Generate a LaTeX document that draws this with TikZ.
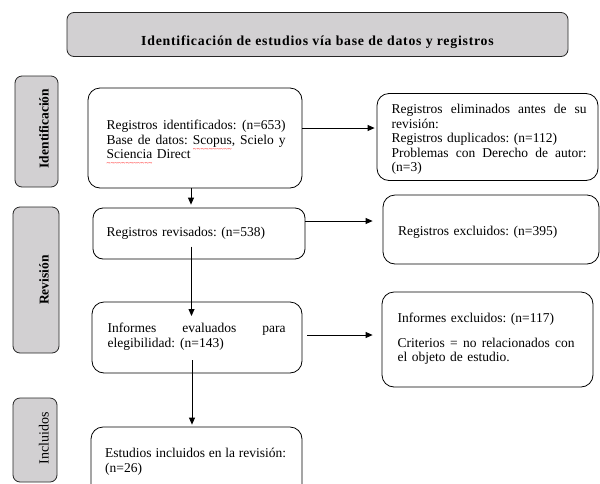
\documentclass[tikz,border=0pt]{standalone}
\usepackage{fontspec}
\setmainfont{Liberation Serif}
\newfontfamily\titlefont[LetterSpace=5.5]{Liberation Serif}
\usetikzlibrary{arrows.meta}
\definecolor{boxgray}{RGB}{210,208,210}
\newcommand\bodyfont{\fontsize{13.5}{14.5}\selectfont\frenchspacing}
\newsavebox\sqbox
\newcommand\sq[1]{\sbox\sqbox{#1}\leavevmode\rlap{\raisebox{-7pt}[0pt][0pt]{\hbox to \wd\sqbox{\color{red}\fontsize{7}{7}\selectfont\xleaders\hbox{\textasciitilde}\hfill}}}\usebox\sqbox}
\newcommand\jl[2]{\makebox[#1][s]{\spaceskip=0pt\xspaceskip=0pt #2}}
\begin{document}
\begin{tikzpicture}[x=1pt,y=-1pt,
  box/.style={draw=black, line width=0.8pt, rounded corners=12pt, fill=white, inner sep=0pt},
  gbox/.style={draw=black!85, line width=0.8pt, rounded corners=7pt, fill=boxgray, inner sep=0pt},
  txt/.style={anchor=base west, inner sep=0pt, align=left, text width=240pt, font=\bodyfont},
  arr/.style={line width=0.8pt, -{Triangle[length=7pt,width=6pt]}},
  side/.style={rotate=90, anchor=base, inner sep=0pt}]
\useasboundingbox (0,0) rectangle (600,483);
\clip (0,0) rectangle (600,483);
\fill[white] (0,0) rectangle (600,483);

% title
\node[gbox, minimum width=501pt, minimum height=44pt] (T) at (317.5,34.5) {};
\node[anchor=base, inner sep=0pt, font=\titlefont\bfseries\fontsize{13.8}{14}\selectfont] (Tt) at (317.5,45.5) {Identificación de estudios vía base de datos y registros};

% side labels
\node[gbox, minimum width=43pt, minimum height=111pt] (S1) at (36.5,131.5) {};
\node[side, font=\bfseries\fontsize{13.5}{14}\selectfont] (S1t) at (48.5,128.5) {Identificación};
\node[gbox, minimum width=46pt, minimum height=146pt] (S2) at (36,280) {};
\node[side, font=\bfseries\fontsize{13.5}{14}\selectfont] (S2t) at (48.5,280) {Revisión};
\node[gbox, minimum width=44pt, minimum height=84pt] (S3) at (35,440) {};
\node[side, font=\fontsize{14}{14}\selectfont] (S3t) at (48.5,438.5) {Incluidos};

% main boxes
\node[box, minimum width=214pt, minimum height=100pt] (B1) at (195,138) {};
\node[txt] (B1t) at (106.5,129.5) {\jl{179pt}{Registros identificados: (n=653)}\\\jl{179pt}{Base de datos: \sq{Scopus}, Scielo y}\\\sq{Sciencia} Direct};

\node[box, minimum width=221pt, minimum height=87pt] (R1) at (487.5,137) {};
\node[txt] (R1t) at (391.5,113.5) {\jl{195pt}{Registros eliminados antes de su}\\revisión:\\Registros duplicados: (n=112)\\\jl{195pt}{Problemas con Derecho de autor:}\\(n=3)};

\node[box, minimum width=212pt, minimum height=51pt, rounded corners=10pt] (B2) at (199,233.5) {};
\node[txt] (B2t) at (106.5,236.5) {Registros revisados: (n=538)};

\node[box, minimum width=216pt, minimum height=69pt] (R2) at (491,229.5) {};
\node[txt] (R2t) at (398,235.5) {Registros excluidos: (n=395)};

\node[box, minimum width=210pt, minimum height=71pt] (B3) at (197,337.5) {};
\node[txt] (B3t) at (107.5,332.5) {\jl{178pt}{Informes evaluados para}\\elegibilidad:\hspace{5pt}(n=143)};

\node[box, minimum width=211pt, minimum height=95pt] (R3) at (487.5,339.5) {};
\node[txt] (R3t) at (397.5,322.5) {Informes excluidos: (n=117)\\[10pt]\jl{177pt}{Criterios = no relacionados con}\\el objeto de estudio.};

\node[box, minimum width=211pt, minimum height=86pt] (B4) at (196.5,470) {};
\node[txt] (B4t) at (105,457.5) {\jl{181pt}{Estudios incluidos en la revisión:}\\(n=26)};

% connectors
\coordinate (c1) at (191.5,246.5);
\coordinate (c2) at (191.5,316);
\coordinate (c3) at (192,360);
\draw[arr, shorten >=2pt] (B1.east |- 0,128) -- (R1.west |- 0,128);
\draw[arr, shorten >=3pt] (B1.south -| 191,0) -- (B2.north -| 191,0);
\draw[arr, shorten >=10pt] (B2.east |- 0,221) -- (R2.west |- 0,221);
\draw[arr] (c1) -- (c2);
\draw[arr, shorten <=5pt, shorten >=9pt] (B3.east |- 0,335) -- (R3.west |- 0,335);
\draw[arr, shorten >=2pt] (c3) -- (B4.north -| c3);
\end{tikzpicture}
\end{document}
